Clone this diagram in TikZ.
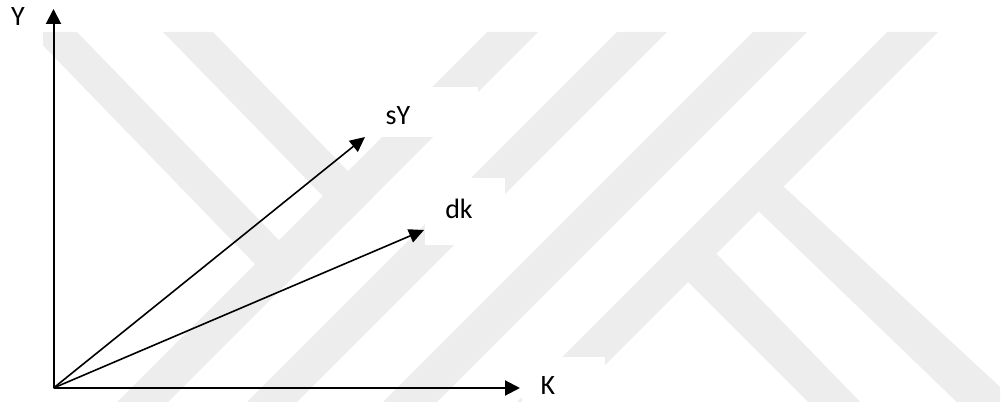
\documentclass[tikz,border=0pt]{standalone}
\usepackage{fontspec}
\setmainfont{Carlito}
\usetikzlibrary{arrows.meta}
\definecolor{wmgray}{RGB}{237,237,237}
\begin{document}
\begin{tikzpicture}[x=1pt,y=-1pt,
  axis/.style={line width=2pt,-{Triangle[length=15pt,width=15pt]}},
  vec/.style={line width=1.6pt,-{Triangle[length=15pt,width=14pt]}},
  lbl/.style={font=\fontsize{28}{30}\selectfont, inner sep=0pt, text=black},
  band/.style={fill=wmgray},
  textbg/.style={fill=white}]
\useasboundingbox (0,0) rectangle (1001,403);

% faint background emblem made of diagonal stripes
\begin{scope}
  \clip (43,32) rectangle (1000,401);
  % left letter: two strokes falling to the right
  \fill[band] (30,32) -- (77,32) -- (304,266) -- (280,290) -- cycle;
  \fill[band] (163,32) -- (213,32) -- (373,197) -- (348,222) -- cycle;
  % four long strokes rising to the right
  \fill[band] (487,32) -- (538,32) -- (160,410) -- (109,410) -- cycle;
  \fill[band] (617,32) -- (667,32) -- (289,410) -- (239,410) -- cycle;
  \fill[band] (753,32) -- (807,32) -- (429,410) -- (375,410) -- cycle;
  \fill[band] (887,32) -- (938,32) -- (560,410) -- (509,410) -- cycle;
  % right letter: the two lower legs
  \fill[band] (768,172) -- (1025,410) -- (965,410) -- (745,198) -- cycle;
  \fill[band] (708,245) -- (868,410) -- (816,410) -- (685,279) -- cycle;
\end{scope}

% white backgrounds of the label boxes
\fill[textbg] (370,87) rectangle (478,137);
\fill[textbg] (425,178) rectangle (505,245);
\fill[textbg] (522,357) rectangle (605,403);

% points of the diagram
\coordinate (O) at (53.5,388);
\coordinate (Ytip) at (53.5,9);
\coordinate (Ktip) at (520,388);
\coordinate (sYtip) at (365,137);
\coordinate (dktip) at (424,230);

% labels
\node[lbl] (ylab) at (18,17) {Y};
\node[lbl] (klab) at (548,386) {K};
\node[lbl] (sylab) at (398,116) {sY};
\node[lbl] (dklab) at (459,209) {dk};

% axes and vectors
\draw[axis] (O) -- (Ytip);
\draw[axis] (O) -- (Ktip);
\draw[vec] (O) -- (sYtip);
\draw[vec] (O) -- (dktip);
\end{tikzpicture}
\end{document}
